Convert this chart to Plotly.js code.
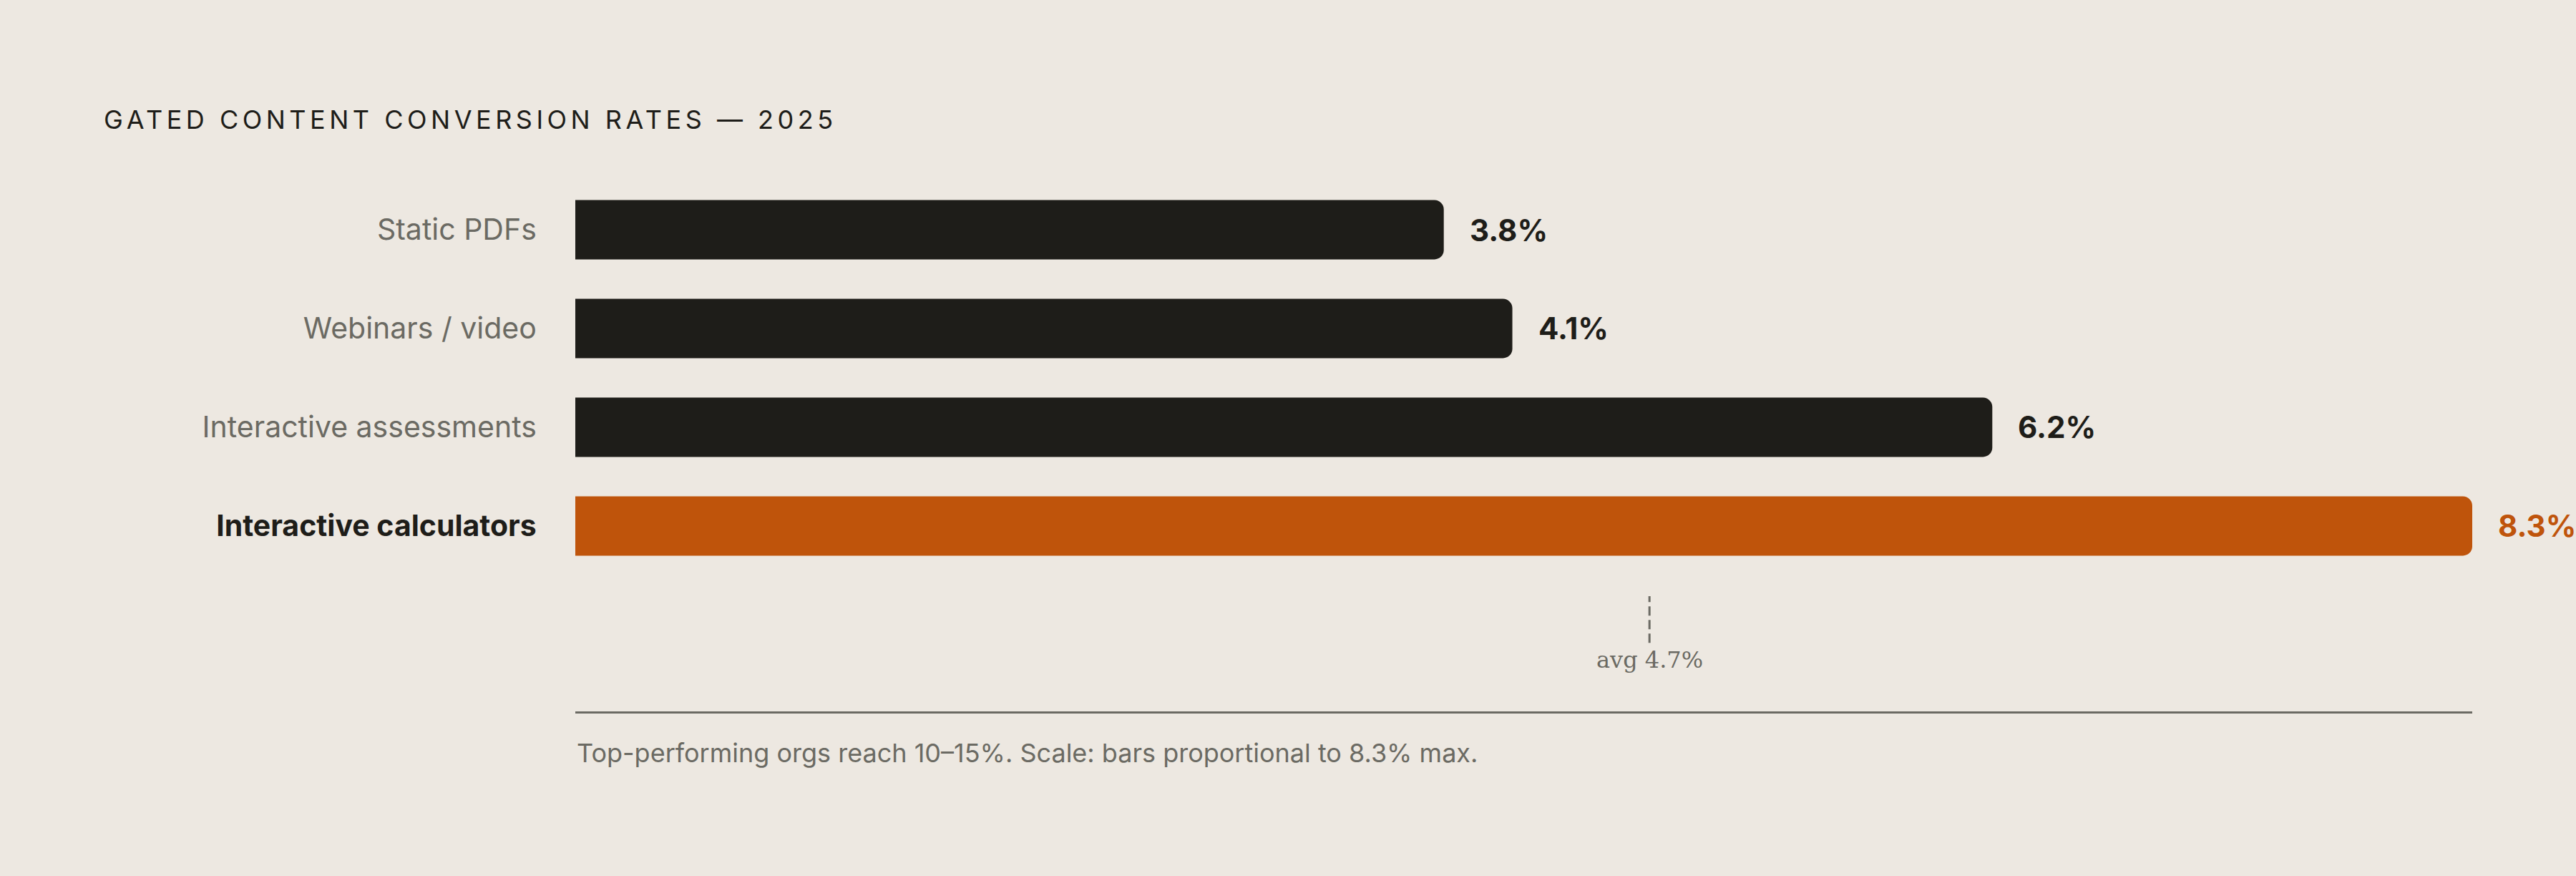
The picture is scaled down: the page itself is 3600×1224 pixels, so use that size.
<!DOCTYPE html>
<html>
<head>
<meta charset="utf-8">
<script src="https://cdn.plot.ly/plotly-3.0.1.min.js"></script>
<style>
  html, body { margin: 0; padding: 0; background: #ede8e1; }
  #chart { width: 3600px; height: 1224px; }
  .gtitle { letter-spacing: 5.5px; }
</style>
</head>
<body>
<div id="chart"></div>
<script>
var categories = ['Static PDFs', 'Webinars / video', 'Interactive assessments', 'Interactive calculators'];
var rates = [3.8, 4.1, 6.2, 8.3];
var highlight = [false, false, false, true];
var avgRate = 4.7;
var footnote = 'Top-performing orgs reach 10\u201315%. Scale: bars proportional to 8.3% max.';

var dark = '#1e1d19';
var orange = '#bf540b';
var grey = '#6b6a63';

var barColors = highlight.map(function (h) { return h ? orange : dark; });
var tickText = categories.map(function (c, i) {
  return highlight[i] ? '<span style="color:' + dark + '"><b>' + c + '</b></span>' : c;
});

var trace = {
  type: 'bar',
  orientation: 'h',
  x: rates,
  y: categories,
  width: 0.6,
  marker: { color: barColors, cornerradius: 13 },
  hoverinfo: 'skip'
};

var valueLabels = rates.map(function (v, i) {
  return {
    x: v, y: categories[i], xref: 'x', yref: 'y',
    text: '<b>' + v.toFixed(1) + '%</b>',
    showarrow: false, xanchor: 'left', yanchor: 'middle', xshift: 34,
    font: { family: 'Inter, sans-serif', size: 42, color: highlight[i] ? orange : dark }
  };
});

var layout = {
  width: 3600,
  height: 1224,
  paper_bgcolor: '#ede8e1',
  plot_bgcolor: '#ede8e1',
  margin: { l: 804, r: 145, t: 252, b: 230 },
  showlegend: false,
  title: {
    text: 'GATED CONTENT CONVERSION RATES \u2014 2025',
    font: { family: 'Inter, sans-serif', size: 36, color: dark },
    x: 0.0403, xanchor: 'left', xref: 'container',
    y: 0.863, yanchor: 'middle', yref: 'container'
  },
  xaxis: {
    range: [0, 8.3],
    showgrid: false, zeroline: false, showticklabels: false,
    ticks: '',
    showline: true, linecolor: grey, linewidth: 3,
    fixedrange: true
  },
  yaxis: {
    type: 'category',
    range: [4.877, -0.5],
    tickvals: categories,
    ticktext: tickText,
    ticks: 'outside', ticklen: 45, tickcolor: 'rgba(0,0,0,0)',
    tickfont: { family: 'Inter, sans-serif', size: 41, color: grey },
    showgrid: false, zeroline: false, showline: false,
    fixedrange: true
  },
  shapes: [{
    type: 'line', xref: 'x', yref: 'paper',
    x0: avgRate, x1: avgRate, y0: 0.129, y1: 0.217,
    line: { color: grey, width: 3, dash: '13px,6px' }
  }],
  annotations: valueLabels.concat([
    {
      x: avgRate, y: 0.097, xref: 'x', yref: 'paper',
      text: 'avg ' + avgRate + '%',
      showarrow: false, xanchor: 'center', yanchor: 'middle',
      font: { family: 'DejaVu Serif, serif', size: 32, color: grey }
    },
    {
      x: 0, y: -0.078, xref: 'paper', yref: 'paper',
      text: footnote,
      showarrow: false, xanchor: 'left', yanchor: 'middle',
      font: { family: 'Inter, sans-serif', size: 36, color: grey }
    }
  ])
};

Plotly.newPlot('chart', [trace], layout, { staticPlot: true, displayModeBar: false });
</script>
</body>
</html>
